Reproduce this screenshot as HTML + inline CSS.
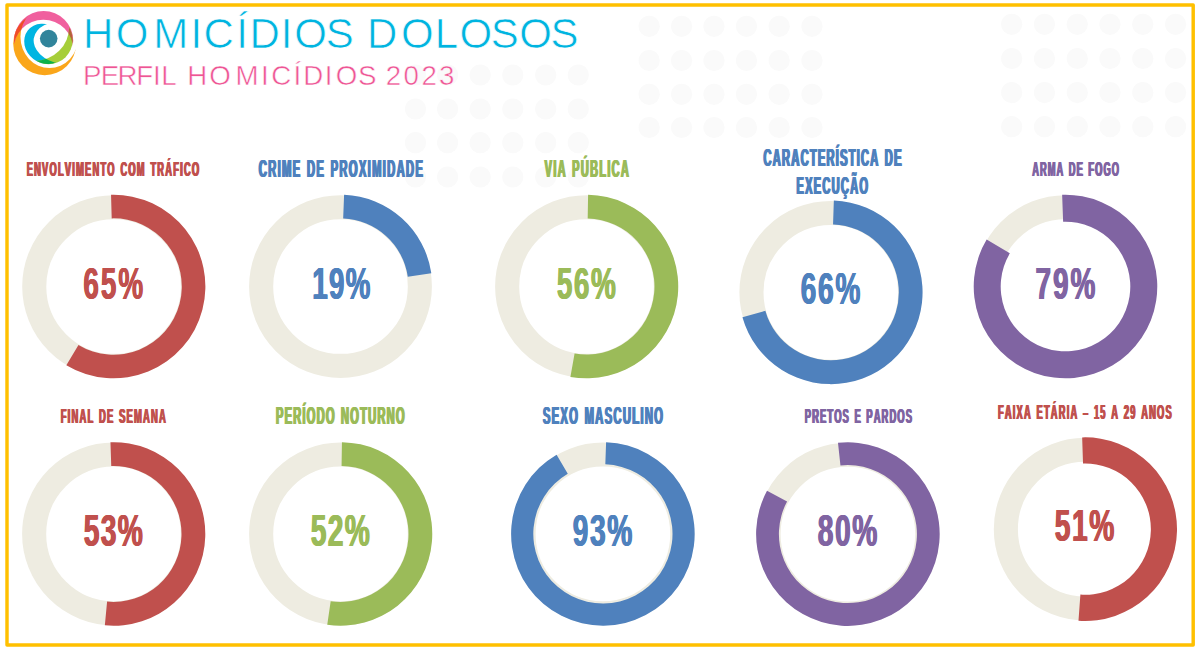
<!DOCTYPE html>
<html lang="pt-BR"><head><meta charset="utf-8"><title>Homicídios Dolosos – Perfil Homicídios 2023</title>
<style>
html,body{margin:0;padding:0;background:#fff}
body{width:1198px;height:658px;overflow:hidden;position:relative}
svg{position:absolute;left:0;top:0;display:block}
text{font-family:"Liberation Sans",sans-serif;font-kerning:none;white-space:pre}
.cond{font-weight:bold}
.thin{font-weight:normal}
</style></head><body>
<svg width="1198" height="658" viewBox="0 0 1198 658">
<rect width="1198" height="658" fill="#fff"/>
<g fill="#fafafa"><circle cx="415.5" cy="75" r="10.6"/><circle cx="447.6" cy="75" r="10.6"/><circle cx="480.2" cy="75" r="10.6"/><circle cx="512.8" cy="75" r="10.6"/><circle cx="545.7" cy="75" r="10.6"/><circle cx="578.3" cy="75" r="10.6"/><circle cx="415.5" cy="109" r="10.6"/><circle cx="447.6" cy="109" r="10.6"/><circle cx="480.2" cy="109" r="10.6"/><circle cx="512.8" cy="109" r="10.6"/><circle cx="545.7" cy="109" r="10.6"/><circle cx="578.3" cy="109" r="10.6"/><circle cx="415.5" cy="142.7" r="10.6"/><circle cx="447.6" cy="142.7" r="10.6"/><circle cx="480.2" cy="142.7" r="10.6"/><circle cx="512.8" cy="142.7" r="10.6"/><circle cx="545.7" cy="142.7" r="10.6"/><circle cx="578.3" cy="142.7" r="10.6"/><circle cx="415.5" cy="177" r="10.6"/><circle cx="447.6" cy="177" r="10.6"/><circle cx="480.2" cy="177" r="10.6"/><circle cx="512.8" cy="177" r="10.6"/><circle cx="545.7" cy="177" r="10.6"/><circle cx="578.3" cy="177" r="10.6"/><circle cx="649.2" cy="26.3" r="10.6"/><circle cx="681.6" cy="26.3" r="10.6"/><circle cx="714.0" cy="26.3" r="10.6"/><circle cx="746.5" cy="26.3" r="10.6"/><circle cx="779.2" cy="26.3" r="10.6"/><circle cx="812.0" cy="26.3" r="10.6"/><circle cx="649.2" cy="60.5" r="10.6"/><circle cx="681.6" cy="60.5" r="10.6"/><circle cx="714.0" cy="60.5" r="10.6"/><circle cx="746.5" cy="60.5" r="10.6"/><circle cx="779.2" cy="60.5" r="10.6"/><circle cx="812.0" cy="60.5" r="10.6"/><circle cx="649.2" cy="94.3" r="10.6"/><circle cx="681.6" cy="94.3" r="10.6"/><circle cx="714.0" cy="94.3" r="10.6"/><circle cx="746.5" cy="94.3" r="10.6"/><circle cx="779.2" cy="94.3" r="10.6"/><circle cx="812.0" cy="94.3" r="10.6"/><circle cx="649.2" cy="127.5" r="10.6"/><circle cx="681.6" cy="127.5" r="10.6"/><circle cx="714.0" cy="127.5" r="10.6"/><circle cx="746.5" cy="127.5" r="10.6"/><circle cx="779.2" cy="127.5" r="10.6"/><circle cx="812.0" cy="127.5" r="10.6"/><circle cx="1011.7" cy="24.3" r="10.6"/><circle cx="1044.5" cy="24.3" r="10.6"/><circle cx="1077.3" cy="24.3" r="10.6"/><circle cx="1110.0" cy="24.3" r="10.6"/><circle cx="1142.8" cy="24.3" r="10.6"/><circle cx="1175.6" cy="24.3" r="10.6"/><circle cx="1011.7" cy="58.5" r="10.6"/><circle cx="1044.5" cy="58.5" r="10.6"/><circle cx="1077.3" cy="58.5" r="10.6"/><circle cx="1110.0" cy="58.5" r="10.6"/><circle cx="1142.8" cy="58.5" r="10.6"/><circle cx="1175.6" cy="58.5" r="10.6"/><circle cx="1011.7" cy="92.6" r="10.6"/><circle cx="1044.5" cy="92.6" r="10.6"/><circle cx="1077.3" cy="92.6" r="10.6"/><circle cx="1110.0" cy="92.6" r="10.6"/><circle cx="1142.8" cy="92.6" r="10.6"/><circle cx="1175.6" cy="92.6" r="10.6"/><circle cx="1011.7" cy="126.7" r="10.6"/><circle cx="1044.5" cy="126.7" r="10.6"/><circle cx="1077.3" cy="126.7" r="10.6"/><circle cx="1110.0" cy="126.7" r="10.6"/><circle cx="1142.8" cy="126.7" r="10.6"/><circle cx="1175.6" cy="126.7" r="10.6"/></g>
<rect x="7" y="4.97" width="1186.2" height="640.08" fill="none" stroke="#FFC000" stroke-width="3.45" stroke-linejoin="round"/>
<circle cx="113.6" cy="286.55" r="79.35" fill="none" stroke="#EEECE1" stroke-width="24.1"/><path d="M111.04 194.81A91.78 91.78 0 1 1 66.33 365.22L78.47 345.01A68.2 68.2 0 1 0 111.70 218.38Z" fill="#C0504D"/>
<circle cx="340.5" cy="286.55" r="79.35" fill="none" stroke="#EEECE1" stroke-width="24.1"/><path d="M344.10 194.84A91.78 91.78 0 0 1 431.32 273.30L407.79 276.73A68.0 68.0 0 0 0 343.17 218.60Z" fill="#4F81BD"/>
<circle cx="586.5" cy="286.55" r="79.35" fill="none" stroke="#EEECE1" stroke-width="24.1"/><path d="M588.10 194.78A91.78 91.78 0 1 1 570.40 376.91L574.58 353.50A68.0 68.0 0 1 0 587.69 218.56Z" fill="#9BBB59"/>
<circle cx="830.8" cy="292.35" r="79.35" fill="none" stroke="#EEECE1" stroke-width="24.1"/><path d="M833.84 200.62A91.78 91.78 0 1 1 742.44 317.19L765.34 310.75A68.0 68.0 0 1 0 833.05 224.39Z" fill="#4F81BD"/>
<circle cx="1065.5" cy="286.55" r="79.35" fill="none" stroke="#EEECE1" stroke-width="24.1"/><path d="M1062.14 194.83A91.78 91.78 0 1 1 986.66 239.55L1009.84 253.37A64.8 64.8 0 1 0 1063.13 221.79Z" fill="#8064A2"/>
<circle cx="113.5" cy="533.92" r="79.35" fill="none" stroke="#EEECE1" stroke-width="24.1"/><path d="M110.46 442.19A91.78 91.78 0 1 1 104.86 625.29L107.10 601.62A68.0 68.0 0 1 0 111.25 465.96Z" fill="#C0504D"/>
<circle cx="340.5" cy="533.92" r="79.35" fill="none" stroke="#EEECE1" stroke-width="24.1"/><path d="M341.94 442.15A91.78 91.78 0 1 1 327.25 624.74L330.68 601.21A68.0 68.0 0 1 0 341.57 465.93Z" fill="#9BBB59"/>
<circle cx="602.9" cy="533.92" r="79.35" fill="none" stroke="#EEECE1" stroke-width="24.1"/><path d="M606.10 442.20A91.78 91.78 0 1 1 556.59 454.68L567.78 473.83A69.6 69.6 0 1 0 605.33 464.36Z" fill="#4F81BD"/>
<circle cx="847.9" cy="534.1" r="79.35" fill="none" stroke="#EEECE1" stroke-width="24.1"/><path d="M837.99 442.86A91.78 91.78 0 1 1 767.01 490.73L787.09 501.49A69.0 69.0 0 1 0 840.45 465.50Z" fill="#8064A2"/>
<circle cx="1085.2" cy="529.13" r="79.35" fill="none" stroke="#EEECE1" stroke-width="24.1"/><path d="M1082.16 437.40A91.78 91.78 0 1 1 1078.48 620.66L1080.40 594.55A65.6 65.6 0 1 0 1083.03 463.57Z" fill="#C0504D"/>
<g id="logo">
<defs>
<mask id="mPink" maskUnits="userSpaceOnUse" x="0" y="0" width="90" height="90"><ellipse cx="43.64" cy="40.68" rx="29.6" ry="29.6" fill="#fff"/><ellipse cx="43.34" cy="49.67" rx="29.92" ry="29.92" fill="#000"/></mask>
<mask id="mOr" maskUnits="userSpaceOnUse" x="0" y="0" width="90" height="90"><ellipse cx="44.68" cy="43.53" rx="31.45" ry="31.65" fill="#fff"/><ellipse cx="49.45" cy="36.85" rx="29.0" ry="31.17" fill="#000"/></mask>
<mask id="mLime" maskUnits="userSpaceOnUse" x="0" y="0" width="90" height="90"><ellipse cx="48.5" cy="40.05" rx="24.16" ry="24.16" fill="#fff"/><ellipse cx="34.73" cy="26.45" rx="34.54" ry="34.54" fill="#000"/></mask>
<mask id="mCy" maskUnits="userSpaceOnUse" x="0" y="0" width="90" height="90"><ellipse cx="44.99" cy="43.91" rx="21.77" ry="19.06" fill="#fff" transform="rotate(37.70 44.99 43.91)"/><ellipse cx="62.77" cy="42.75" rx="20.93" ry="29.31" fill="#000" transform="rotate(278.74 62.77 42.75)"/></mask>
</defs>
<rect x="0" y="0" width="90" height="90" fill="#FAA61A" mask="url(#mOr)"/>
<rect x="0" y="0" width="90" height="90" fill="#F0609E" mask="url(#mPink)"/>
<g mask="url(#mOr)"><rect x="0" y="0" width="90" height="90" fill="#F04E23" mask="url(#mPink)"/></g>
<rect x="0" y="0" width="90" height="90" fill="#00B5E2" mask="url(#mCy)"/>
<rect x="0" y="0" width="90" height="90" fill="#A6CE39" mask="url(#mLime)"/>
<g mask="url(#mCy)"><rect x="0" y="0" width="90" height="90" fill="#0DB14B" mask="url(#mLime)"/></g>
<g mask="url(#mPink)"><rect x="0" y="0" width="90" height="90" fill="#B5623B" mask="url(#mLime)"/></g>
<circle cx="48.7" cy="38.6" r="8.8" fill="#31849B"/>
</g>

<text class="thin" x="82.9 115.8 153.2 190.5 203.6 236.2 249.4 280.7 294.3 325.7 353.7 367.0 401.0 434.8 459.6 490.8 519.3 550.6" y="47.9" font-size="42.01" fill="#00B4E0" stroke="#fff" stroke-width="0.7">HOMICÍDIOS DOLOSOS</text>
<text class="thin" x="82.9 100.8 117.4 136.2 152.9 161.2 176.6 187.2 209.3 235.5 260.9 271.3 293.6 303.3 324.8 335.7 358.1 376.5 385.7 403.4 421.4 439.1" y="85.0" font-size="27.69" fill="#EE5594" stroke="#fff" stroke-width="0.5">PERFIL HOMICÍDIOS 2023</text>

<g class="cond">
<text transform="translate(26.69 175.70) scale(0.4700 1)" font-size="19.77" fill="#C0504D" style="letter-spacing:2.627px;word-spacing:1.736px;text-shadow:0.88px 0 0 #C0504D,-0.88px 0 0 #C0504D">ENVOLVIMENTO COM TRÁFICO</text>
<text transform="translate(258.74 176.80) scale(0.4700 1)" font-size="23.98" fill="#4F81BD" style="letter-spacing:2.748px;word-spacing:2.106px;text-shadow:1.06px 0 0 #4F81BD,-1.06px 0 0 #4F81BD">CRIME DE PROXIMIDADE</text>
<text transform="translate(544.71 176.80) scale(0.4700 1)" font-size="23.40" fill="#9BBB59" style="letter-spacing:2.755px;word-spacing:2.055px;text-shadow:1.04px 0 0 #9BBB59,-1.04px 0 0 #9BBB59">VIA PÚBLICA</text>
<text transform="translate(763.44 165.70) scale(0.4700 1)" font-size="23.98" fill="#4F81BD" style="letter-spacing:2.424px;word-spacing:2.106px;text-shadow:1.06px 0 0 #4F81BD,-1.06px 0 0 #4F81BD">CARACTERÍSTICA DE</text>
<text transform="translate(796.45 193.80) scale(0.4700 1)" font-size="23.69" fill="#4F81BD" style="letter-spacing:2.588px;word-spacing:2.081px;text-shadow:1.05px 0 0 #4F81BD,-1.05px 0 0 #4F81BD">EXECUÇÃO</text>
<text transform="translate(1032.18 175.70) scale(0.4700 1)" font-size="19.77" fill="#8064A2" style="letter-spacing:2.296px;word-spacing:1.736px;text-shadow:0.88px 0 0 #8064A2,-0.88px 0 0 #8064A2">ARMA DE FOGO</text>
<text transform="translate(60.69 422.90) scale(0.4700 1)" font-size="20.06" fill="#C0504D" style="letter-spacing:2.530px;word-spacing:1.762px;text-shadow:0.89px 0 0 #C0504D,-0.89px 0 0 #C0504D">FINAL DE SEMANA</text>
<text transform="translate(275.95 424.00) scale(0.4700 1)" font-size="23.98" fill="#9BBB59" style="letter-spacing:2.377px;word-spacing:2.106px;text-shadow:1.06px 0 0 #9BBB59,-1.06px 0 0 #9BBB59">PERÍODO NOTURNO</text>
<text transform="translate(542.78 424.00) scale(0.4700 1)" font-size="23.98" fill="#4F81BD" style="letter-spacing:2.717px;word-spacing:2.106px;text-shadow:1.06px 0 0 #4F81BD,-1.06px 0 0 #4F81BD">SEXO MASCULINO</text>
<text transform="translate(804.79 422.90) scale(0.4700 1)" font-size="20.06" fill="#8064A2" style="letter-spacing:2.277px;word-spacing:1.762px;text-shadow:0.89px 0 0 #8064A2,-0.89px 0 0 #8064A2">PRETOS E PARDOS</text>
<text transform="translate(997.99 418.80) scale(0.4700 1)" font-size="19.77" fill="#C0504D" style="letter-spacing:2.581px;word-spacing:1.736px;text-shadow:0.88px 0 0 #C0504D,-0.88px 0 0 #C0504D">FAIXA ETÁRIA – 15 A 29 ANOS</text>
<text transform="translate(83.34 298.70) scale(0.6400 1)" font-size="43.61" fill="#C0504D" style="letter-spacing:3.105px;word-spacing:2.812px;text-shadow:0.57px 0 0 #C0504D,-0.57px 0 0 #C0504D">65%</text>
<text transform="translate(312.21 298.70) scale(0.6400 1)" font-size="43.61" fill="#4F81BD" style="letter-spacing:1.805px;word-spacing:2.812px;text-shadow:0.57px 0 0 #4F81BD,-0.57px 0 0 #4F81BD">19%</text>
<text transform="translate(556.81 298.70) scale(0.6400 1)" font-size="43.61" fill="#9BBB59" style="letter-spacing:2.431px;word-spacing:2.812px;text-shadow:0.57px 0 0 #9BBB59,-0.57px 0 0 #9BBB59">56%</text>
<text transform="translate(800.64 303.50) scale(0.6400 1)" font-size="44.04" fill="#4F81BD" style="letter-spacing:2.599px;word-spacing:2.841px;text-shadow:0.57px 0 0 #4F81BD,-0.57px 0 0 #4F81BD">66%</text>
<text transform="translate(1035.46 298.70) scale(0.6400 1)" font-size="43.61" fill="#8064A2" style="letter-spacing:3.166px;word-spacing:2.812px;text-shadow:0.57px 0 0 #8064A2,-0.57px 0 0 #8064A2">79%</text>
<text transform="translate(83.80 546.10) scale(0.6400 1)" font-size="44.04" fill="#C0504D" style="letter-spacing:2.001px;word-spacing:2.841px;text-shadow:0.57px 0 0 #C0504D,-0.57px 0 0 #C0504D">53%</text>
<text transform="translate(310.80 546.10) scale(0.6400 1)" font-size="44.04" fill="#9BBB59" style="letter-spacing:2.001px;word-spacing:2.841px;text-shadow:0.57px 0 0 #9BBB59,-0.57px 0 0 #9BBB59">52%</text>
<text transform="translate(572.69 546.10) scale(0.6400 1)" font-size="44.04" fill="#4F81BD" style="letter-spacing:2.556px;word-spacing:2.841px;text-shadow:0.57px 0 0 #4F81BD,-0.57px 0 0 #4F81BD">93%</text>
<text transform="translate(817.77 545.50) scale(0.6400 1)" font-size="44.04" fill="#8064A2" style="letter-spacing:2.491px;word-spacing:2.841px;text-shadow:0.57px 0 0 #8064A2,-0.57px 0 0 #8064A2">80%</text>
<text transform="translate(1054.80 541.10) scale(0.6400 1)" font-size="44.04" fill="#C0504D" style="letter-spacing:2.470px;word-spacing:2.841px;text-shadow:0.57px 0 0 #C0504D,-0.57px 0 0 #C0504D">51%</text>
</g>
</svg>
</body></html>
